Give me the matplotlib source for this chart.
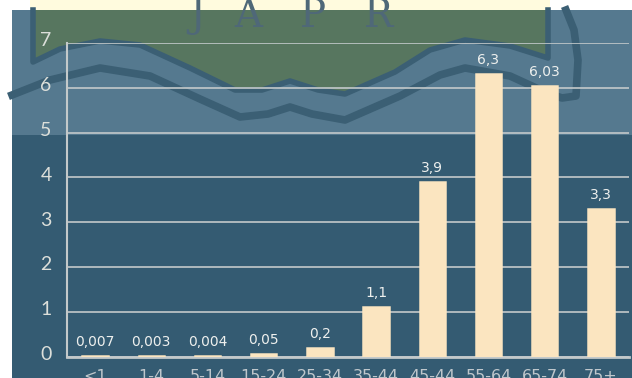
import matplotlib.pyplot as plt
from matplotlib.patches import Rectangle, Polygon
from matplotlib.transforms import ScaledTranslation

# data
age_groups = ['<1', '1-4', '5-14', '15-24', '25-34', '35-44', '45-44', '55-64', '65-74', '75+']
values = [0.007, 0.003, 0.004, 0.05, 0.2, 1.1, 3.9, 6.3, 6.03, 3.3]
y_ticks = [0, 1, 2, 3, 4, 5, 6, 7]

panel_color = '#345B72'
band_color = '#55798F'
green_color = '#57765F'
stroke_color = '#3B5F74'
bar_color = '#FBE5C0'
line_color = '#C3C9CA'
text_color = '#DCDFDA'

fig = plt.figure(figsize=(6.32, 3.78), dpi=100, facecolor='white')

# background + faded watermark, drawn in pixel coordinates
bg = fig.add_axes([0, 0, 1, 1], zorder=0)
bg.set_xlim(0, 632)
bg.set_ylim(378, 0)
bg.axis('off')
bg.add_patch(Rectangle((12, 10), 620, 368, color=panel_color, lw=0))
bg.add_patch(Rectangle((12, 10), 620, 125, color=band_color, lw=0))

wave_top = [(33, 62), (60, 49), (100, 41), (140, 45), (190, 68), (235, 90),
            (262, 90), (290, 81), (318, 90), (345, 94), (395, 72), (430, 50),
            (465, 40), (510, 46), (548, 58)]
bg.add_patch(Polygon([(33, 10)] + wave_top + [(548, 10)], closed=True,
                     color=green_color, lw=0))
xs, ys = zip(*([(33, 10)] + wave_top + [(548, 10)]))
bg.plot(xs, ys, color=stroke_color, lw=4, solid_joinstyle='round')

wave_low = [(12, 95), (50, 80), (100, 68), (150, 76), (200, 99), (240, 117),
            (268, 114), (290, 107), (312, 114), (345, 120), (400, 96), (440, 75),
            (465, 68), (510, 76), (545, 92), (562, 98), (576, 96), (578, 60),
            (574, 30), (566, 10)]
xs, ys = zip(*wave_low)
bg.plot(xs, ys, color=stroke_color, lw=5.5, solid_joinstyle='round')

for letter, lx in zip(['J', 'A', 'P', 'R'], [197, 248, 313, 378]):
    bg.text(lx, 27, letter, fontsize=28, family='DejaVu Serif', color='#4F6878',
            ha='center', va='baseline')
bg.add_patch(Rectangle((30, 0), 520, 10, color='#FFFBD9', lw=0, alpha=0.85))

# the chart itself
ax = fig.add_axes([67 / 632, 21.5 / 378, 562 / 632, 313.5 / 378], zorder=1)
ax.set_facecolor('none')
x = range(len(age_groups))
bars = ax.bar(x, values, width=0.45, color=bar_color, edgecolor=bar_color,
              linewidth=1.8, zorder=3)

for xi, v in zip(x, values):
    ax.annotate(str(v).replace('.', ','), (xi, v), xytext=(0, 5),
                textcoords='offset points', ha='center', va='bottom',
                fontsize=10, color='#EEF0EE')

ax.set_xlim(-0.5, 9.5)
ax.set_ylim(0, 7)
ax.set_yticks(y_ticks)
ax.set_yticklabels([str(t) for t in y_ticks], fontsize=14, color=text_color,
                   family='Lato')
ax.set_xticks(list(x))
ax.set_xticklabels(age_groups, fontsize=11.5, color='#BFC7CC')
ax.tick_params(axis='y', length=0, pad=11)
ax.tick_params(axis='x', length=0, pad=9)
offset = ScaledTranslation(0, 0.035, fig.dpi_scale_trans)
for lab in ax.get_yticklabels():
    lab.set_transform(lab.get_transform() + offset)

ax.grid(axis='y', color=line_color, lw=1.2)
ax.set_axisbelow(True)
for s in ['top', 'right']:
    ax.spines[s].set_visible(False)
ax.spines['left'].set_color(line_color)
ax.spines['left'].set_linewidth(1.5)
ax.spines['bottom'].set_color(line_color)
ax.spines['bottom'].set_linewidth(2)

fig.savefig('out.png', dpi=100)
